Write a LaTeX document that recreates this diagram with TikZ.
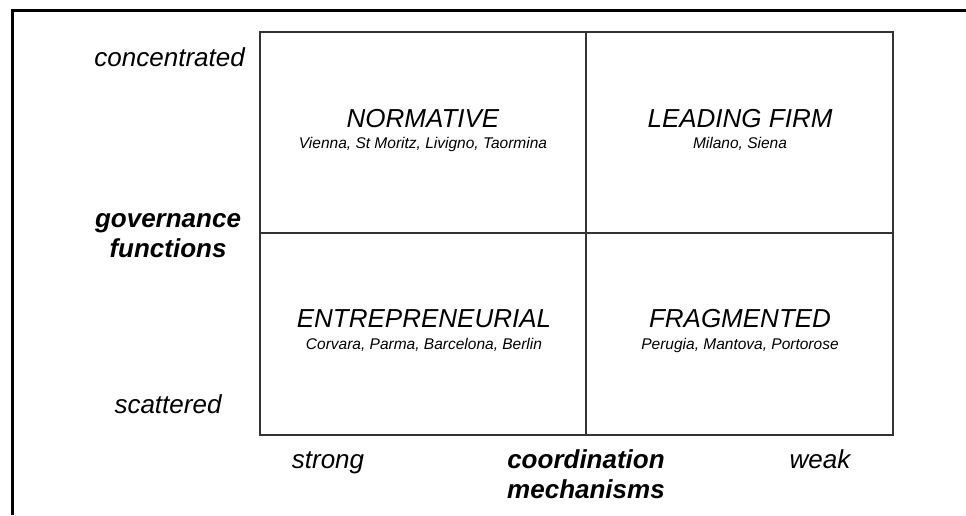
\documentclass[tikz,border=0pt]{standalone}
\usepackage{fontspec}
\setmainfont{Liberation Sans}

\begin{document}
\begin{tikzpicture}[x=1pt, y=-1pt, every node/.append style={inner sep=0pt}]

    \tikzset{
        quadname/.style={font=\fontsize{26}{30}\selectfont\itshape, anchor=base},
        quadcity/.style={font=\fontsize{15.5}{18}\selectfont\itshape, anchor=base},
        axisend/.style={font=\fontsize{26}{30}\selectfont\itshape, anchor=base},
        axisname/.style={font=\fontsize{26}{30}\selectfont\bfseries\itshape, align=center, anchor=base},
    }

    \def\xl{260}    % left, middle and right edge of the grid
    \def\xm{586}
    \def\xr{893}
    \def\yt{32}     % top, middle and bottom edge of the grid
    \def\ym{233}
    \def\yb{435}

    \useasboundingbox (0,0) rectangle (966,515);

    % Frame round the figure, open to the right and the bottom
    \draw[line width=2.5pt]
        (966,10.5) -- (12.5,10.5) -- (12.5,515)
    ;

    \draw[line width=1.3pt, black!80]
        (\xl,\yt) rectangle (\xr,\yb)
        (\xm,\yt) -- (\xm,\yb)      % split strong / weak
        (\xl,\ym) -- (\xr,\ym)      % split concentrated / scattered
    ;

    % Quadrants: name on top, cities below
    \node (normative)   [quadname] at (423,127) {NORMATIVE};
    \node (normcities)  [quadcity] at (423,148) {Vienna, St Moritz, Livigno, Taormina};
    \node (leading)     [quadname] at (740,127) {LEADING FIRM};
    \node (leadcities)  [quadcity] at (740,148) {Milano, Siena};
    \node (entrepren)   [quadname] at (424,327) {ENTREPRENEURIAL};
    \node (entrcities)  [quadcity] at (424,349) {Corvara, Parma, Barcelona, Berlin};
    \node (fragmented)  [quadname] at (740,327) {FRAGMENTED};
    \node (fragcities)  [quadcity] at (740,349) {Perugia, Mantova, Portorose};

    % Vertical axis (a two-line node sits on the baseline of its last line)
    \node (concentrated) [axisend, anchor=base east] at (245,66) {concentrated};
    \node (governance)   [axisname] at (168,257) {governance\\functions};
    \node (scattered)    [axisend] at (168,413) {scattered};

    % Horizontal axis
    \node (strong)       [axisend] at (328,468) {strong};
    \node (coordination) [axisname] at (586,498) {coordination\\mechanisms};
    \node (weak)         [axisend] at (820,468) {weak};

\end{tikzpicture}
\end{document}
